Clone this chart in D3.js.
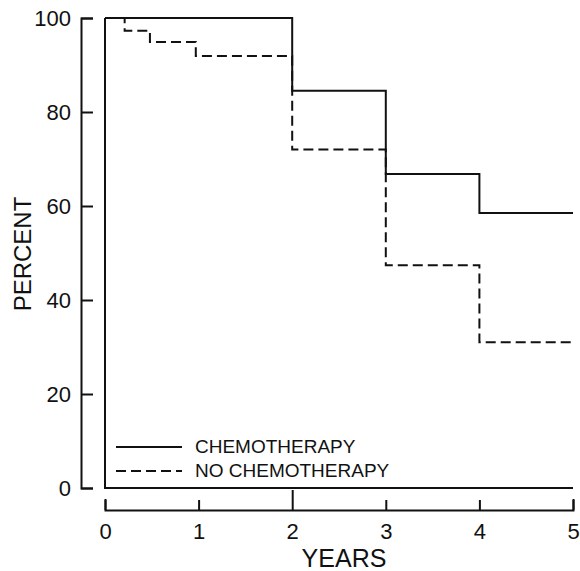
<!DOCTYPE html>
<html>
<head>
<meta charset="utf-8">
<script src="https://cdn.jsdelivr.net/npm/d3@7"></script>
<style>
  html, body { margin: 0; padding: 0; background: #fff; }
  svg { display: block; }
  text { font-family: "Liberation Sans", Arial, Helvetica, sans-serif; fill: #111; }
</style>
</head>
<body>
<svg id="chart" width="580" height="571"></svg>
<script>
// Survival (percent) by year, step curves
const chemoYears = [0, 2, 3, 4, 5];
const chemoPercent = [100, 84.5, 66.8, 58.5, 58.5];

const noChemoYears = [0, 0.21, 0.48, 0.97, 2, 3, 4, 5];
const noChemoPercent = [100, 97.3, 94.9, 91.9, 72, 47.4, 31, 31];

const xTicks = [0, 1, 2, 3, 4, 5];
const yTicks = [0, 20, 40, 60, 80, 100];

const seriesNames = ["CHEMOTHERAPY", "NO CHEMOTHERAPY"];

const ink = "#111";
const dash = "10,5";

const svg = d3.select("#chart");

const x = d3.scaleLinear().domain([0, 5]).range([105, 573]);
const y = d3.scaleLinear().domain([0, 100]).range([488, 18]);

// Y axis, offset to the left of the plot, ticks pointing inward
const yAxisX = 81;
const yAxis = d3.axisLeft(y)
  .tickValues(yTicks)
  .tickFormat(d3.format("d"))
  .tickSize(-12)
  .tickSizeOuter(-12)
  .tickPadding(10);

const gy = svg.append("g")
  .attr("transform", `translate(${yAxisX},0)`)
  .call(yAxis);
gy.selectAll("path, line").attr("stroke", ink).attr("stroke-width", 2);
gy.selectAll("text")
  .attr("font-size", 22)
  .attr("font-family", "Liberation Sans, Arial, sans-serif")
  .attr("fill", ink);

// X axis, offset below the plot, ticks pointing up
const xAxisY = 510;
const xAxis = d3.axisBottom(x)
  .tickValues(xTicks)
  .tickFormat(d3.format("d"))
  .tickSize(-10)
  .tickSizeOuter(-11)
  .tickPadding(13);

const gx = svg.append("g")
  .attr("transform", `translate(0,${xAxisY})`)
  .call(xAxis);
gx.selectAll("path, line").attr("stroke", ink).attr("stroke-width", 2);
gx.selectAll(".tick line").attr("y2", d => d === 2 ? -20 : -10);
gx.selectAll("text")
  .attr("font-size", 22)
  .attr("font-family", "Liberation Sans, Arial, sans-serif")
  .attr("fill", ink);

// Inner frame along the zero lines
svg.append("path")
  .attr("d", `M${x(0)},${y(100)}V${y(0)}H${x(5)}`)
  .attr("fill", "none")
  .attr("stroke", ink)
  .attr("stroke-width", 2);

// Axis titles
svg.append("text")
  .attr("x", 344)
  .attr("y", 567)
  .attr("text-anchor", "middle")
  .attr("font-size", 25)
  .text("YEARS");

svg.append("text")
  .attr("transform", "translate(31,254) rotate(-90)")
  .attr("text-anchor", "middle")
  .attr("font-size", 24)
  .text("PERCENT");

// Step curves
const line = d3.line()
  .x(d => x(d[0]))
  .y(d => y(d[1]))
  .curve(d3.curveStepAfter);

svg.append("path")
  .datum(d3.zip(noChemoYears, noChemoPercent))
  .attr("d", line)
  .attr("fill", "none")
  .attr("stroke", ink)
  .attr("stroke-width", 2)
  .attr("stroke-dasharray", dash);

svg.append("path")
  .datum(d3.zip(chemoYears, chemoPercent))
  .attr("d", line)
  .attr("fill", "none")
  .attr("stroke", ink)
  .attr("stroke-width", 2);

// Legend
const legend = svg.append("g");
const legendRows = [
  { name: seriesNames[0], dash: null, yLine: 447, yText: 453 },
  { name: seriesNames[1], dash: dash, yLine: 471, yText: 477 }
];
legendRows.forEach(r => {
  legend.append("line")
    .attr("x1", 116).attr("x2", 182)
    .attr("y1", r.yLine).attr("y2", r.yLine)
    .attr("stroke", ink)
    .attr("stroke-width", 2)
    .attr("stroke-dasharray", r.dash);
  legend.append("text")
    .attr("x", 195)
    .attr("y", r.yText)
    .attr("font-size", 19)
    .text(r.name);
});
</script>
</body>
</html>
